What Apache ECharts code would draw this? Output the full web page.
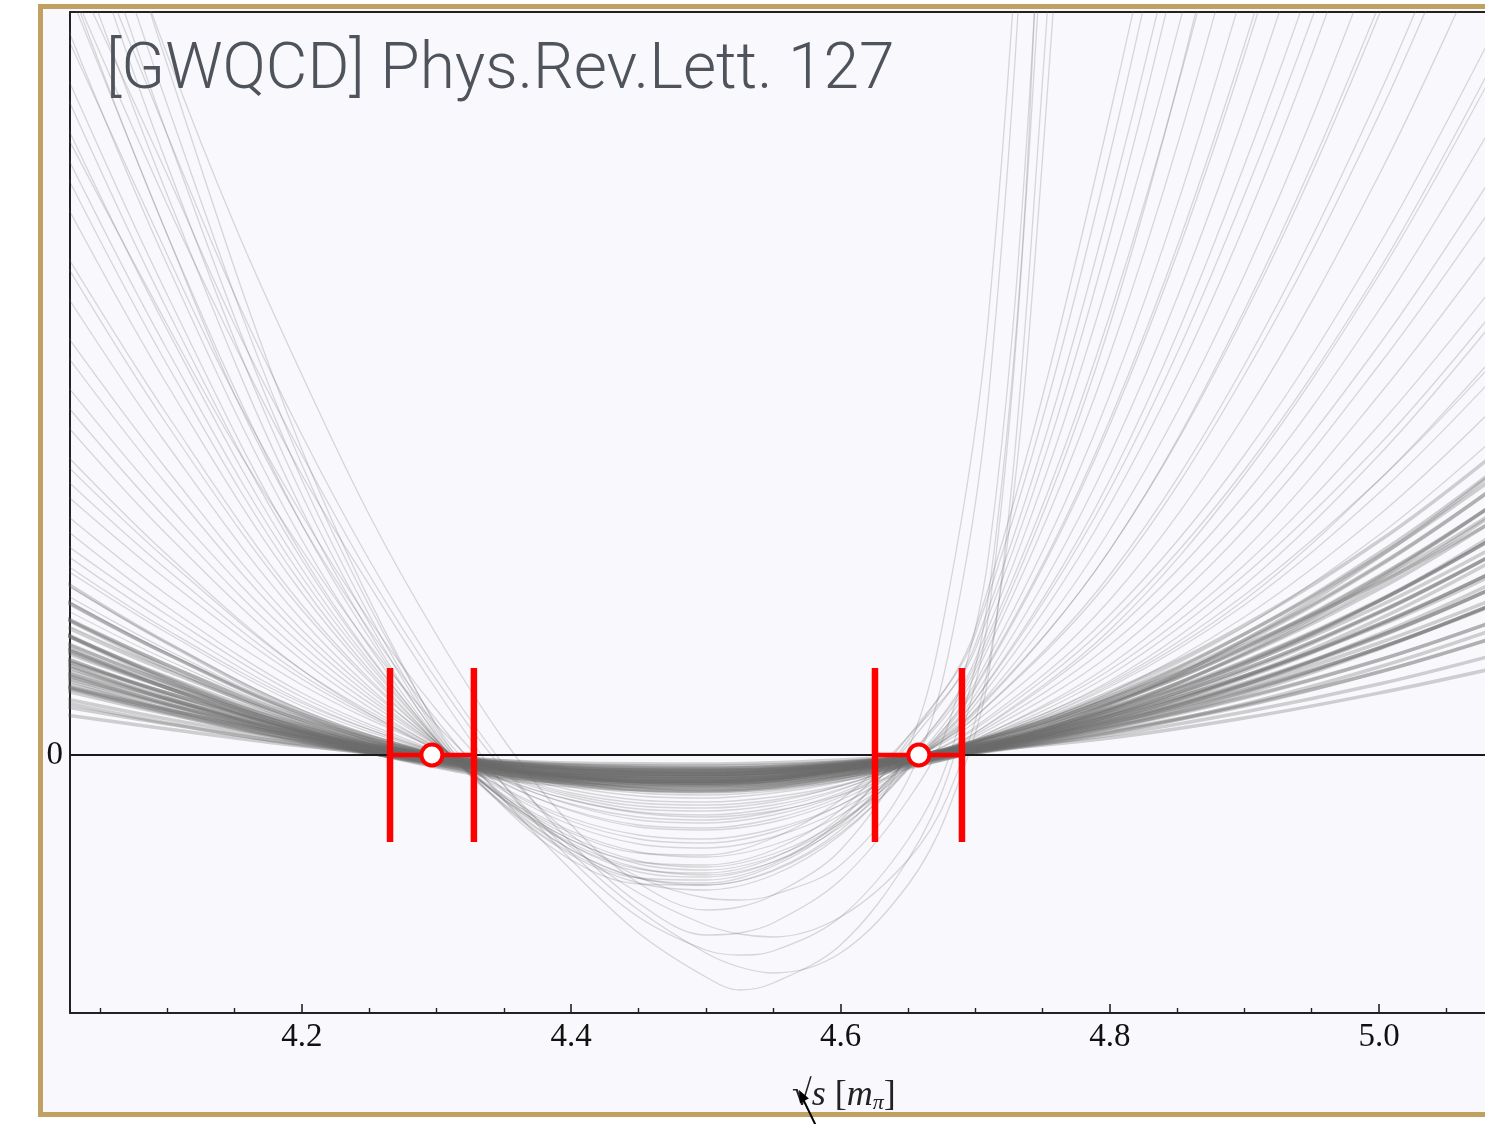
<!DOCTYPE html>
<html>
<head>
<meta charset="utf-8">
<script src="https://cdn.jsdelivr.net/npm/echarts@6/dist/echarts.min.js"></script>
<style>
html,body{margin:0;padding:0;background:#ffffff;}
#chart{width:1485px;height:1124px;}
</style>
</head>
<body>
<div id="chart"></div>
<script>
// ---------- data ----------
const X_MIN = 4.0277;
const X_MAX = 5.0787;
const Y_MIN = -2.58;
const Y_MAX = 7.43;

const TICK_MAJOR = [4.2, 4.4, 4.6, 4.8, 5.0];
const TICK_MINOR = [4.05, 4.1, 4.15, 4.25, 4.3, 4.35, 4.45, 4.5, 4.55, 4.65, 4.7, 4.75, 4.85, 4.9, 4.95, 5.05];
const Y_LABELS = [0];

// sample positions for the curve ensemble
const X_CORE = [4.025, 4.1, 4.2, 4.3, 4.4, 4.5, 4.6, 4.7, 4.8, 4.9, 5.0, 5.08];
const X_FAN  = [4.025, 4.1, 4.2, 4.3, 4.35, 4.4, 4.45, 4.5, 4.55, 4.6, 4.65, 4.7, 4.8, 4.9, 5.0, 5.08];
const X_DEEP = [4.025, 4.1, 4.15, 4.2, 4.25, 4.3, 4.35, 4.4, 4.45, 4.5, 4.525, 4.55, 4.6, 4.65, 4.68, 4.71, 4.74, 4.8];

// dense central bundle
const CORE_Y = [
  [0.48, 0.31, 0.11, -0.02, -0.10, -0.11, -0.07, 0.04, 0.20, 0.43, 0.71, 0.98],
  [0.64, 0.41, 0.15, -0.03, -0.13, -0.15, -0.09, 0.05, 0.27, 0.57, 0.95, 1.31],
  [0.80, 0.51, 0.19, -0.04, -0.16, -0.19, -0.11, 0.06, 0.34, 0.71, 1.19, 1.64],
  [0.96, 0.62, 0.23, -0.04, -0.19, -0.22, -0.13, 0.08, 0.41, 0.86, 1.43, 1.97],
  [1.12, 0.72, 0.26, -0.05, -0.23, -0.26, -0.16, 0.09, 0.47, 1.00, 1.66, 2.30],
  [0.52, 0.32, 0.10, -0.05, -0.14, -0.15, -0.10, 0.03, 0.23, 0.49, 0.83, 1.15],
  [0.67, 0.42, 0.13, -0.07, -0.18, -0.19, -0.12, 0.04, 0.29, 0.63, 1.07, 1.48],
  [0.82, 0.51, 0.16, -0.08, -0.22, -0.24, -0.15, 0.05, 0.36, 0.77, 1.30, 1.80],
  [0.97, 0.60, 0.19, -0.10, -0.25, -0.28, -0.18, 0.06, 0.42, 0.92, 1.54, 2.13],
  [0.68, 0.45, 0.18, 0.00, -0.10, -0.13, -0.07, 0.06, 0.28, 0.58, 0.95, 1.31],
  [0.85, 0.56, 0.23, 0.00, -0.13, -0.16, -0.09, 0.08, 0.35, 0.72, 1.19, 1.64],
  [1.02, 0.67, 0.28, 0.00, -0.16, -0.19, -0.11, 0.10, 0.42, 0.86, 1.43, 1.97],
  [1.28, 0.84, 0.35, 0.00, -0.20, -0.24, -0.14, 0.12, 0.53, 1.08, 1.79, 2.46],
  [0.69, 0.45, 0.18, -0.02, -0.13, -0.16, -0.11, 0.02, 0.22, 0.51, 0.88, 1.23],
  [0.94, 0.62, 0.24, -0.02, -0.18, -0.22, -0.15, 0.02, 0.31, 0.70, 1.21, 1.69],
  [1.20, 0.78, 0.31, -0.03, -0.22, -0.28, -0.20, 0.03, 0.39, 0.90, 1.54, 2.16],
  [0.68, 0.43, 0.14, -0.05, -0.15, -0.17, -0.09, 0.08, 0.33, 0.68, 1.12, 1.53],
  [0.91, 0.57, 0.19, -0.06, -0.20, -0.22, -0.12, 0.10, 0.45, 0.91, 1.49, 2.04],
  [1.21, 0.76, 0.26, -0.09, -0.27, -0.29, -0.16, 0.14, 0.59, 1.21, 1.99, 2.72],
  [1.36, 0.87, 0.32, -0.06, -0.28, -0.32, -0.19, 0.11, 0.57, 1.21, 2.02, 2.79],
  [1.53, 1.01, 0.41, 0.00, -0.23, -0.29, -0.16, 0.14, 0.63, 1.30, 2.14, 2.95],
  [1.20, 0.74, 0.23, -0.12, -0.31, -0.35, -0.22, 0.07, 0.52, 1.13, 1.89, 2.62],
  [1.54, 1.01, 0.40, -0.04, -0.29, -0.36, -0.25, 0.04, 0.50, 1.15, 1.98, 2.77],
  [1.72, 1.12, 0.44, 0.01, -0.22, -0.27, -0.15, 0.13, 0.56, 1.10, 1.72, 2.30],
  [0.40, 0.26, 0.09, -0.02, -0.08, -0.09, -0.05, 0.04, 0.17, 0.37, 0.62, 0.85],
  [0.56, 0.36, 0.13, -0.03, -0.11, -0.13, -0.08, 0.04, 0.24, 0.50, 0.83, 1.15],
  [0.72, 0.46, 0.17, -0.03, -0.15, -0.17, -0.10, 0.06, 0.30, 0.64, 1.07, 1.48],
  [0.88, 0.56, 0.21, -0.04, -0.18, -0.21, -0.12, 0.07, 0.37, 0.78, 1.31, 1.80],
  [1.04, 0.67, 0.24, -0.05, -0.21, -0.24, -0.15, 0.08, 0.44, 0.93, 1.54, 2.13],
  [1.20, 0.77, 0.28, -0.06, -0.24, -0.28, -0.17, 0.09, 0.51, 1.07, 1.78, 2.46],
  [0.77, 0.50, 0.21, 0.00, -0.12, -0.14, -0.08, 0.07, 0.32, 0.65, 1.07, 1.47],
  [0.94, 0.62, 0.25, 0.00, -0.14, -0.18, -0.10, 0.09, 0.39, 0.79, 1.31, 1.80],
  [1.11, 0.73, 0.30, 0.00, -0.17, -0.21, -0.12, 0.10, 0.46, 0.94, 1.55, 2.13],
  [1.36, 0.90, 0.37, 0.00, -0.21, -0.26, -0.14, 0.13, 0.56, 1.15, 1.90, 2.62],
  [0.82, 0.54, 0.21, -0.02, -0.15, -0.19, -0.13, 0.02, 0.27, 0.61, 1.06, 1.48],
  [1.06, 0.70, 0.27, -0.02, -0.20, -0.25, -0.17, 0.03, 0.35, 0.79, 1.36, 1.91],
  [1.37, 0.90, 0.35, -0.03, -0.26, -0.32, -0.22, 0.03, 0.45, 1.02, 1.76, 2.46],
  [0.79, 0.50, 0.17, -0.06, -0.18, -0.19, -0.10, 0.09, 0.39, 0.79, 1.29, 1.77],
  [1.06, 0.67, 0.23, -0.08, -0.24, -0.26, -0.14, 0.12, 0.52, 1.06, 1.74, 2.38],
  [0.75, 0.46, 0.14, -0.08, -0.20, -0.22, -0.14, 0.04, 0.32, 0.70, 1.18, 1.64],
  [0.90, 0.56, 0.17, -0.09, -0.24, -0.26, -0.16, 0.05, 0.39, 0.84, 1.42, 1.97],
  [1.08, 0.67, 0.21, -0.11, -0.28, -0.31, -0.20, 0.06, 0.47, 1.01, 1.70, 2.36]
];

// wider fan of steeper curves
const FAN_Y = [
  [1.90, 1.25, 0.52, 0.03, -0.15, -0.28, -0.35, -0.37, -0.32, -0.22, -0.06, 0.16, 0.85, 1.90, 3.30, 4.60],
  [2.40, 1.60, 0.70, 0.06, -0.18, -0.35, -0.45, -0.47, -0.42, -0.30, -0.09, 0.20, 1.10, 2.40, 4.10, 5.70],
  [2.90, 1.95, 0.85, 0.08, -0.22, -0.42, -0.54, -0.56, -0.50, -0.34, -0.08, 0.28, 1.40, 3.00, 5.10, 7.10],
  [3.30, 2.20, 0.95, 0.07, -0.24, -0.45, -0.57, -0.60, -0.53, -0.35, -0.06, 0.33, 1.55, 3.40, 5.80, 8.10],
  [3.70, 2.50, 1.10, 0.10, -0.25, -0.50, -0.65, -0.68, -0.60, -0.40, -0.07, 0.38, 1.80, 3.90, 6.60, 9.20],
  [4.20, 2.85, 1.25, 0.12, -0.28, -0.56, -0.72, -0.75, -0.67, -0.45, -0.09, 0.42, 2.05, 4.40, 7.40, 10.3],
  [4.60, 3.10, 1.35, 0.10, -0.33, -0.63, -0.80, -0.84, -0.74, -0.50, -0.10, 0.45, 2.25, 4.80, 8.10, 11.2],
  [5.00, 3.40, 1.50, 0.12, -0.36, -0.70, -0.89, -0.93, -0.82, -0.55, -0.11, 0.50, 2.50, 5.30, 8.90, 12.3],
  [5.50, 3.70, 1.62, 0.12, -0.40, -0.76, -0.97, -1.02, -0.90, -0.60, -0.12, 0.55, 2.75, 5.90, 9.80, 13.6],
  [6.00, 4.05, 1.78, 0.14, -0.42, -0.82, -1.06, -1.12, -0.99, -0.66, -0.13, 0.60, 3.00, 6.40, 10.7, 14.8],
  [6.60, 4.45, 1.95, 0.15, -0.45, -0.88, -1.13, -1.20, -1.07, -0.72, -0.14, 0.66, 3.30, 7.00, 11.7, 16.2],
  [7.30, 4.90, 2.15, 0.16, -0.49, -0.95, -1.23, -1.30, -1.16, -0.78, -0.15, 0.72, 3.60, 7.70, 12.8, 17.7],
  [8.30, 5.60, 2.45, 0.18, -0.51, -1.00, -1.28, -1.35, -1.20, -0.80, -0.13, 0.80, 4.00, 8.50, 14.0, 19.4],
  [9.20, 6.20, 2.75, 0.25, -0.46, -0.95, -1.23, -1.28, -1.11, -0.70, -0.03, 0.90, 4.40, 9.30, 15.5, 21.0],
  [10.2, 6.90, 3.05, 0.28, -0.52, -1.05, -1.29, -1.30, -1.15, -0.75, -0.04, 0.95, 4.80, 10.0, 16.5, 23.0],
  [7.80, 5.20, 2.30, 0.20, -0.45, -0.90, -1.14, -1.18, -1.03, -0.62, 0.10, 1.10, 5.50, 11.5, 19.0, 26.0],
  [6.80, 4.60, 2.00, 0.15, -0.44, -0.85, -1.07, -1.10, -0.95, -0.55, 0.18, 1.20, 6.00, 12.5, 20.0, 27.0],
  [8.80, 5.90, 2.60, 0.22, -0.50, -0.98, -1.23, -1.25, -1.09, -0.65, 0.14, 1.25, 6.40, 13.0, 21.0, 29.0],
  [5.80, 3.90, 1.70, 0.12, -0.42, -0.78, -0.98, -1.00, -0.83, -0.45, 0.18, 1.05, 5.20, 11.0, 18.0, 25.0],
  [9.60, 6.50, 2.90, 0.30, -0.41, -0.90, -1.17, -1.22, -1.07, -0.68, -0.04, 0.85, 4.30, 9.50, 16.0, 22.0],
  [2.10, 1.40, 0.58, 0.03, -0.16, -0.30, -0.38, -0.40, -0.36, -0.26, -0.09, 0.15, 0.90, 2.05, 3.60, 5.00],
  [2.60, 1.75, 0.76, 0.06, -0.20, -0.38, -0.48, -0.50, -0.45, -0.31, -0.09, 0.22, 1.20, 2.60, 4.45, 6.20],
  [1.70, 1.12, 0.45, 0.00, -0.15, -0.26, -0.32, -0.34, -0.31, -0.22, -0.08, 0.12, 0.70, 1.55, 2.75, 3.90],
  [3.00, 2.00, 0.85, 0.04, -0.25, -0.45, -0.58, -0.62, -0.56, -0.40, -0.14, 0.22, 1.25, 2.80, 4.80, 6.70],
  [1.45, 0.95, 0.38, 0.00, -0.13, -0.22, -0.28, -0.30, -0.27, -0.19, -0.05, 0.12, 0.62, 1.38, 2.40, 3.40],
  [1.60, 1.05, 0.42, 0.01, -0.15, -0.26, -0.33, -0.35, -0.31, -0.21, -0.05, 0.15, 0.72, 1.60, 2.75, 3.85],
  [1.30, 0.86, 0.34, -0.01, -0.14, -0.23, -0.28, -0.29, -0.25, -0.16, -0.03, 0.14, 0.60, 1.28, 2.20, 3.10],
  [1.85, 1.22, 0.49, 0.02, -0.14, -0.26, -0.33, -0.36, -0.33, -0.24, -0.08, 0.13, 0.74, 1.70, 3.00, 4.25],
  [2.25, 1.48, 0.62, 0.04, -0.17, -0.32, -0.41, -0.43, -0.38, -0.27, -0.08, 0.18, 1.00, 2.25, 3.90, 5.40],
  [2.75, 1.85, 0.80, 0.07, -0.21, -0.40, -0.51, -0.53, -0.47, -0.31, -0.07, 0.26, 1.32, 2.85, 4.85, 6.80],
  [3.50, 2.35, 1.02, 0.09, -0.26, -0.49, -0.62, -0.65, -0.57, -0.38, -0.06, 0.38, 1.75, 3.80, 6.40, 8.90],
  [4.00, 2.70, 1.18, 0.10, -0.29, -0.55, -0.70, -0.73, -0.64, -0.42, -0.06, 0.44, 2.05, 4.45, 7.50, 10.4],
  [1.55, 1.02, 0.40, 0.00, -0.14, -0.24, -0.30, -0.32, -0.29, -0.20, -0.06, 0.13, 0.68, 1.50, 2.62, 3.70],
  [2.00, 1.32, 0.54, 0.02, -0.15, -0.28, -0.36, -0.38, -0.34, -0.24, -0.08, 0.14, 0.80, 1.80, 3.10, 4.35],
  [4.90, 3.30, 1.45, 0.12, -0.34, -0.66, -0.84, -0.88, -0.77, -0.50, -0.07, 0.55, 2.65, 5.60, 9.30, 12.9],
  [6.30, 4.25, 1.86, 0.14, -0.44, -0.85, -1.09, -1.15, -1.02, -0.68, -0.11, 0.68, 3.35, 7.10, 11.9, 16.4]
];

// deepest, most strongly curved members
const DEEP_Y = [
  [7.7, 5.2, 3.6, 2.3, 1.25, 0.35, -0.45, -1.15, -1.78, -2.22, -2.35, -2.28, -1.90, -1.05, -0.20, 1.4, 6.0, 20],
  [7.2, 5.0, 3.6, 2.4, 1.35, 0.45, -0.30, -0.98, -1.55, -1.98, -2.12, -2.18, -1.98, -1.30, -0.55, 0.8, 4.8, 17],
  [6.2, 4.3, 3.1, 2.05, 1.1, 0.30, -0.35, -0.92, -1.38, -1.70, -1.79, -1.82, -1.62, -1.05, -0.40, 0.9, 4.2, 16],
  [8.7, 6.2, 4.6, 3.2, 1.95, 0.85, -0.10, -0.88, -1.48, -1.80, -1.78, -1.68, -1.25, -0.45, 0.30, 2.0, 6.5, 21],
  [9.8, 7.0, 5.3, 3.8, 2.4, 1.2, 0.15, -0.70, -1.28, -1.55, -1.52, -1.40, -0.95, 0.05, 1.6, 4.4, 10.5, 35],
  [7.8, 5.5, 4.1, 2.8, 1.7, 0.65, -0.30, -1.05, -1.62, -1.95, -2.00, -1.96, -1.62, -0.85, -0.05, 1.6, 6.2, 26],
  [8.0, 5.8, 4.3, 3.0, 1.8, 0.75, -0.15, -0.80, -1.22, -1.43, -1.45, -1.40, -1.10, -0.25, 1.0, 3.6, 9.5, 30]
];

// the two red points with their horizontal error bars
const BAR_X    = [4.2965, 4.6582];
const BAR_X_LO = [4.2654, 4.6256];
const BAR_X_HI = [4.3277, 4.6902];
const BAR_Y    = [0, 0];
const CAP_Y_LO = [-0.87, -0.87];
const CAP_Y_HI = [0.87, 0.87];

const TITLE_TEXT = '[GWQCD] Phys.Rev.Lett. 127';

// ---------- chart ----------
const chart = echarts.init(document.getElementById('chart'), null, {renderer: 'canvas'});

const CURVE_COLOR = '#6a6a6a';
function curveSeries(xs, ys, width, opacity, smooth) {
  return {
    type: 'line',
    data: xs.map((x, i) => [x, ys[i]]),
    smooth: smooth,
    showSymbol: false,
    symbol: 'none',
    silent: true,
    animation: false,
    clip: true,
    z: 2,
    lineStyle: {color: CURVE_COLOR, width: width, opacity: opacity}
  };
}

const series = [];
FAN_Y.forEach(ys => series.push(curveSeries(X_FAN, ys, 1.3, 0.24, 0.35)));
DEEP_Y.forEach(ys => series.push(curveSeries(X_DEEP, ys, 1.3, 0.24, 0.35)));
CORE_Y.forEach(ys => series.push(curveSeries(X_CORE, ys, 3.5, 0.3, 0.4)));

series.push({
  type: 'custom',
  z: 10,
  silent: true,
  animation: false,
  data: BAR_X.map((x, i) => [BAR_X_LO[i], BAR_X_HI[i], BAR_Y[i], CAP_Y_LO[i], CAP_Y_HI[i]]),
  encode: {x: [0, 1], y: [2, 3, 4]},
  renderItem: function (params, api) {
    const lo = api.coord([api.value(0), api.value(2)]);
    const hi = api.coord([api.value(1), api.value(2)]);
    const a1 = api.coord([api.value(0), api.value(3)]);
    const a2 = api.coord([api.value(0), api.value(4)]);
    const b1 = api.coord([api.value(1), api.value(3)]);
    const b2 = api.coord([api.value(1), api.value(4)]);
    return {
      type: 'group',
      children: [
        {type: 'line', shape: {x1: lo[0], y1: lo[1], x2: hi[0], y2: hi[1]}, style: {stroke: '#ff0000', lineWidth: 4.5}},
        {type: 'line', shape: {x1: a1[0], y1: a1[1], x2: a2[0], y2: a2[1]}, style: {stroke: '#ff0000', lineWidth: 6.5}},
        {type: 'line', shape: {x1: b1[0], y1: b1[1], x2: b2[0], y2: b2[1]}, style: {stroke: '#ff0000', lineWidth: 6.5}}
      ]
    };
  },
  markLine: {
    silent: true,
    symbol: ['none', 'none'],
    label: {show: false},
    lineStyle: {color: '#1a1a1a', width: 1.8, type: 'solid'},
    data: [{yAxis: 0}]
  }
});

series.push({
  type: 'scatter',
  z: 11,
  silent: true,
  animation: false,
  data: BAR_X.map((x, i) => [x, BAR_Y[i]]),
  symbol: 'circle',
  symbolSize: 21,
  itemStyle: {color: '#ffffff', borderColor: '#ff0000', borderWidth: 4, opacity: 1}
});

const serif = 'Liberation Serif';
const axisColor = '#222222';

const option = {
  backgroundColor: '#ffffff',
  animation: false,
  grid: {left: 70, right: 0, top: 12, bottom: 111, containLabel: false, outerBoundsMode: 'none'},
  xAxis: [
    {
      type: 'value', min: X_MIN, max: X_MAX, position: 'bottom',
      axisLine: {show: true, onZero: false, lineStyle: {color: axisColor, width: 2}},
      axisTick: {show: true, inside: true, length: 9, customValues: TICK_MAJOR, lineStyle: {color: axisColor, width: 1.6}},
      axisLabel: {show: true, customValues: TICK_MAJOR, formatter: v => Number(v).toFixed(1),
        fontFamily: serif, fontSize: 33, color: '#111', margin: 8},
      splitLine: {show: false}
    },
    {
      type: 'value', min: X_MIN, max: X_MAX, position: 'bottom',
      axisLine: {show: false, onZero: false},
      axisTick: {show: true, inside: true, length: 5, customValues: TICK_MINOR, lineStyle: {color: axisColor, width: 1.4}},
      axisLabel: {show: false},
      splitLine: {show: false}
    },
    {
      type: 'value', min: X_MIN, max: X_MAX, position: 'top',
      axisLine: {show: true, onZero: false, lineStyle: {color: axisColor, width: 2}},
      axisTick: {show: false},
      axisLabel: {show: false},
      splitLine: {show: false}
    }
  ],
  yAxis: {
    type: 'value', min: Y_MIN, max: Y_MAX,
    axisLine: {show: true, onZero: false, lineStyle: {color: axisColor, width: 2}},
    axisTick: {show: false},
    axisLabel: {show: true, customValues: Y_LABELS, fontFamily: serif, fontSize: 33, color: '#111', margin: 7},
    splitLine: {show: false}
  },
  graphic: [
    {type: 'rect', z: -100, silent: true, shape: {x: 40.5, y: 6.5, width: 1500, height: 1108}, style: {fill: '#f9f9fd', stroke: '#c0a162', lineWidth: 5}},
    {type: 'text', z: 100, silent: true, x: 106, y: 72,
      style: {text: TITLE_TEXT, font: '300 64px Roboto', fill: '#4e535c', verticalAlign: 'middle', textAlign: 'left'}},
    {type: 'text', z: 100, silent: true, x: 792, y: 1096,
      style: {
        text: '{r|√}{i|s}{r| [}{i|m}{p|π}{r|]}',
        verticalAlign: 'middle', textAlign: 'left',
        rich: {
          r: {fontFamily: serif, fontSize: 36, fill: '#222'},
          i: {fontFamily: serif, fontSize: 36, fontStyle: 'italic', fill: '#222'},
          p: {fontFamily: serif, fontSize: 22, fontStyle: 'italic', fill: '#222', padding: [15, 0, 0, 0]}
        }
      }},
    {type: 'line', z: 100, silent: true, shape: {x1: 817, y1: 1128, x2: 803, y2: 1099}, style: {stroke: '#000', lineWidth: 2}},
    {type: 'polygon', z: 100, silent: true, shape: {points: [[799, 1090], [808.9, 1098.5], [799.9, 1102.9]]}, style: {fill: '#000'}}
  ],
  series: series
};

chart.setOption(option);
</script>
</body>
</html>
